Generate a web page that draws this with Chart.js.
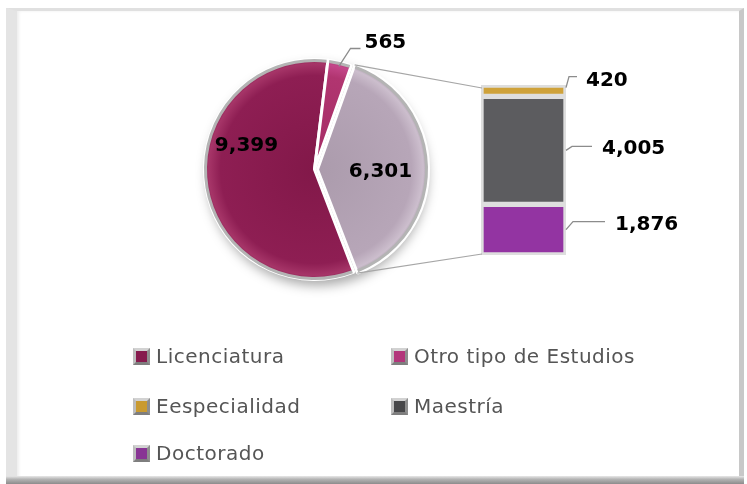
<!DOCTYPE html>
<html>
<head>
<meta charset="utf-8">
<script src="https://cdn.jsdelivr.net/npm/chart.js@4.4.0/dist/chart.umd.min.js"></script>
<style>
  html, body { margin: 0; padding: 0; background: #fff; }
  #stage { position: relative; width: 747px; height: 484px; overflow: hidden; }
  #frame {
    position: absolute; left: 6px; top: 8px; width: 738px; height: 476px;
    box-sizing: border-box; background: #fff;
    border-style: solid; border-width: 3px 5px 0 11px;
    border-color: #e0e0e0 #c8c8c8 #fff #e4e4e4;
    box-shadow: inset 2px 0 3px #eee;
  }
  #frame::after {
    content: ""; position: absolute; left: -11px; right: -5px; bottom: 0; height: 8px;
    background: linear-gradient(#e8e8e8, #b4b4b4 40%, #8c8c8c);
  }
  canvas { position: absolute; left: 0; top: 0; }
  .legend-item {
    position: absolute; height: 20px; display: flex; align-items: center;
    font-family: "DejaVu Sans", sans-serif; font-size: 20px; letter-spacing: 0.5px;
    color: #555; line-height: 20px; white-space: nowrap;
  }
  .legend-item i {
    display: inline-block; width: 11px; height: 11px; margin-right: 6px;
    border: 3px solid; border-color: #d2d2d2 #8e8e8e #7e7e7e #bdbdbd;
  }
</style>
</head>
<body>
<div id="stage">
  <div id="frame"></div>
  <canvas id="pieChart" width="747" height="484"></canvas>
  <canvas id="barChart" width="747" height="484"></canvas>
  <div id="legend"></div>
</div>
<script>
const pieLabels = ["Licenciatura", "Otro tipo de Estudios", "Otros posgrados"];
const pieValues = [9399, 565, 6301];
const barLabels = ["Eespecialidad", "Maestría", "Doctorado"];
const barValues = [420, 4005, 1876];
const legendOrder = ["Licenciatura", "Otro tipo de Estudios", "Eespecialidad", "Maestría", "Doctorado"];

const pieColors = [
  ["#821849", "#8e1e53", "#a63568", "#7a1545"],
  ["#a42b64", "#b13570", "#c4478a", "#9a265c"],
  ["#ab9bac", "#b7a6b8", "#ccbecd", "#9f8fa0"],
];
const barColors = ["#cfa23a", "#5c5c5f", "#9334a2"];
const legendColors = {
  "Licenciatura": "#861a4d",
  "Otro tipo de Estudios": "#b2357a",
  "Eespecialidad": "#c99a30",
  "Maestría": "#474749",
  "Doctorado": "#883594",
};

const fmt = (v) => v.toLocaleString("en-US");
const labelFont = "bold 20px 'DejaVu Sans', sans-serif";

// label offsets relative to pie centre
const pieLabelSpots = [
  { index: 0, dx: -68, dy: -24 },
  { index: 2, dx: 66, dy: 2 },
];
// leader for the small slice: elbow and end relative to pie centre
const smallSliceLeader = { index: 1, elbow: [36, -121], end: [46, -121], text: [50, -121] };
// leaders for bar segments, relative to segment right edge / centre
const barLeaders = [
  { start: -3, elbow: [3, -11], end: [11, -11], text: [20, -2] },
  { start: 0, elbow: [6, -4], end: [26, -4], text: [36, 4] },
  { start: 0, elbow: [7, -8], end: [39, -8], text: [49, 0] },
];

function sliceGradient(chart, stops) {
  const area = chart.chartArea;
  if (!area) return stops[1];
  const cx = (area.left + area.right) / 2;
  const cy = (area.top + area.bottom) / 2;
  const r = Math.min(area.width, area.height) / 2;
  const g = chart.ctx.createRadialGradient(cx, cy, 0, cx, cy, r);
  g.addColorStop(0, stops[0]);
  g.addColorStop(0.8, stops[1]);
  g.addColorStop(0.9, stops[2]);
  g.addColorStop(0.96, stops[3]);
  return g;
}

const pieDecor = {
  id: "pieDecor",
  beforeDatasetsDraw(chart) {
    const ctx = chart.ctx;
    const arc = chart.getDatasetMeta(0).data[0];
    ctx.save();
    ctx.shadowColor = "rgba(0,0,0,0.35)";
    ctx.shadowBlur = 12;
    ctx.shadowOffsetX = 3;
    ctx.shadowOffsetY = 6;
    ctx.fillStyle = "#bbb";
    ctx.beginPath();
    ctx.arc(arc.x, arc.y, arc.outerRadius, 0, Math.PI * 2);
    ctx.fill();
    ctx.restore();
  },
  afterDatasetsDraw(chart) {
    const ctx = chart.ctx;
    const arcs = chart.getDatasetMeta(0).data;
    ctx.save();
    ctx.strokeStyle = "#b4b4b4";
    ctx.lineWidth = 3;
    arcs.forEach((arc) => {
      const shift = (arc.options.offset || 0) / 4;
      const mid = (arc.startAngle + arc.endAngle) / 2;
      ctx.beginPath();
      ctx.arc(arc.x + Math.cos(mid) * shift, arc.y + Math.sin(mid) * shift,
        arc.outerRadius - 1, arc.startAngle + 0.012, arc.endAngle - 0.012);
      ctx.stroke();
    });
    ctx.restore();

    const cx = arcs[0].x, cy = arcs[0].y;
    ctx.save();
    ctx.font = labelFont;
    ctx.fillStyle = "#000";
    ctx.textAlign = "center";
    ctx.textBaseline = "middle";
    pieLabelSpots.forEach((s) => {
      ctx.fillText(fmt(pieValues[s.index]), cx + s.dx, cy + s.dy);
    });

    const small = arcs[smallSliceLeader.index];
    const mid = (small.startAngle + small.endAngle) / 2;
    ctx.strokeStyle = "#8c8c8c";
    ctx.lineWidth = 1.3;
    ctx.beginPath();
    ctx.moveTo(cx + Math.cos(mid) * (small.outerRadius - 4), cy + Math.sin(mid) * (small.outerRadius - 4));
    ctx.lineTo(cx + smallSliceLeader.elbow[0], cy + smallSliceLeader.elbow[1]);
    ctx.lineTo(cx + smallSliceLeader.end[0], cy + smallSliceLeader.end[1]);
    ctx.stroke();
    ctx.textAlign = "left";
    ctx.fillText(fmt(pieValues[smallSliceLeader.index]), cx + smallSliceLeader.text[0], cy + smallSliceLeader.text[1] - 6);
    ctx.restore();
  },
};

const pieChart = new Chart(document.getElementById("pieChart"), {
  type: "pie",
  data: {
    labels: pieLabels,
    datasets: [{
      data: pieValues,
      backgroundColor: (c) => sliceGradient(c.chart, pieColors[c.dataIndex]),
      borderColor: "#ffffff",
      borderWidth: 3,
      offset: [0, 0, 12],
      hoverOffset: 0,
    }],
  },
  options: {
    responsive: false,
    animation: false,
    rotation: 159,
    layout: { padding: { left: 197, top: 52, right: 315, bottom: 197 } },
    plugins: { legend: { display: false }, tooltip: { enabled: false } },
  },
  plugins: [pieDecor],
});

const barDecor = {
  id: "barDecor",
  afterDatasetsDraw(chart) {
    const ctx = chart.ctx;
    const area = chart.chartArea;
    const grey = pieChart.getDatasetMeta(0).data[2];
    const shift = (grey.options.offset || 0) / 4;
    const mid = (grey.startAngle + grey.endAngle) / 2;
    const gx = grey.x + Math.cos(mid) * shift, gy = grey.y + Math.sin(mid) * shift;
    const r = grey.outerRadius + 1;

    ctx.save();
    ctx.strokeStyle = "#a6a6a6";
    ctx.lineWidth = 1.2;
    ctx.beginPath();
    ctx.moveTo(gx + Math.cos(grey.startAngle) * r, gy + Math.sin(grey.startAngle) * r);
    ctx.lineTo(area.left + 1, area.top + 3);
    ctx.moveTo(gx + Math.cos(grey.endAngle) * r, gy + Math.sin(grey.endAngle) * r);
    ctx.lineTo(area.left + 1, area.bottom - 1);
    ctx.stroke();

    ctx.font = labelFont;
    ctx.fillStyle = "#000";
    ctx.textAlign = "left";
    ctx.textBaseline = "alphabetic";
    ctx.strokeStyle = "#8c8c8c";
    ctx.lineWidth = 1.3;
    barLabels.forEach((label, i) => {
      const dsIndex = barLabels.length - 1 - i;
      const el = chart.getDatasetMeta(dsIndex).data[0];
      const x0 = el.x + el.width / 2;
      const y0 = (el.y + el.base) / 2 + barLeaders[i].start;
      const L = barLeaders[i];
      ctx.beginPath();
      ctx.moveTo(x0, y0);
      ctx.lineTo(x0 + L.elbow[0], y0 + L.elbow[1]);
      ctx.lineTo(x0 + L.end[0], y0 + L.end[1]);
      ctx.stroke();
      ctx.fillText(fmt(barValues[i]), x0 + L.text[0], y0 + L.text[1]);
    });
    ctx.restore();
  },
};

new Chart(document.getElementById("barChart"), {
  type: "bar",
  data: {
    labels: [""],
    datasets: barLabels.map((label, i) => ({
      label,
      data: [barValues[i]],
      backgroundColor: barColors[i],
      borderColor: "#dedede",
      borderWidth: 3,
      borderSkipped: false,
      barPercentage: 1,
      categoryPercentage: 1,
    })).reverse(),
  },
  options: {
    responsive: false,
    animation: false,
    layout: { padding: { left: 481, top: 85, right: 181, bottom: 229 } },
    scales: {
      x: { stacked: true, display: false },
      y: { stacked: true, display: false, min: 0, max: barValues.reduce((a, b) => a + b, 0) },
    },
    plugins: { legend: { display: false }, tooltip: { enabled: false } },
  },
  plugins: [barDecor],
});

const legendSpots = [
  { left: 133, top: 346 }, { left: 391, top: 346 },
  { left: 133, top: 396 }, { left: 391, top: 396 },
  { left: 133, top: 443 },
];
const legend = document.getElementById("legend");
legendOrder.forEach((name, i) => {
  const item = document.createElement("div");
  item.className = "legend-item";
  item.style.left = legendSpots[i].left + "px";
  item.style.top = legendSpots[i].top + "px";
  item.innerHTML = `<i style="background:${legendColors[name]}"></i><span>${name}</span>`;
  legend.appendChild(item);
});
</script>
</body>
</html>
